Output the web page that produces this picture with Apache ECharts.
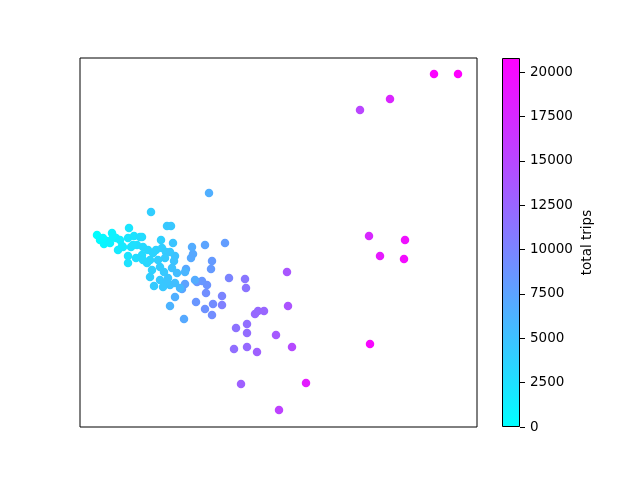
<!DOCTYPE html>
<html>
<head>
<meta charset="utf-8">
<script src="https://cdn.jsdelivr.net/npm/echarts@6/dist/echarts.min.js"></script>
<style>html,body{margin:0;padding:0;background:#fff}#c{width:640px;height:480px}</style>
</head>
<body>
<div id="c"></div>
<script>
// point positions (arbitrary units) and total trips per point
var xVals = [434,458,390,360,369,405,380,404,370,306,279,241,287,288,276,292,257,247,234,247,247,236,255,258,264,245,246,229,222,222,212,205,213,196,206,207,202,197,185,182,184,186,191,193,192,205,225,212,211,209,151,167,171,175,170,97,100,104,107,112,116,110,120,122,129,128,134,142,131,137,143,148,128,128,136,142,150,156,161,162,166,173,175,174,152,150,154,160,164,168,170,172,177,180,147,153,165,160,185,167,163,175,195,118,123,140,158,170,143,133,103,113];
var yVals = [406,406,381,370,244,240,224,221,136,97,70,96,208,174,145,133,128,133,131,156,147,152,166,169,169,201,192,202,184,175,165,171,176,178,187,195,199,198,196,191,161,211,222,226,233,235,237,219,211,287,268,254,254,183,174,245,240,236,239,247,242,237,240,234,252,242,244,243,233,235,233,230,224,217,222,225,220,230,240,232,228,237,224,219,210,203,194,200,208,202,195,212,207,192,217,227,222,213,208,198,193,197,200,230,233,243,220,228,220,235,242,244];
var totalTrips = [20500,20800,17800,15200,17500,19500,18800,19800,20200,18500,15500,13000,13800,14000,13500,14800,13000,12200,11800,11800,12000,11500,12300,12200,12500,11200,11300,10000,10000,10400,9300,9000,9400,8600,9200,8800,8500,8400,7600,7500,7000,7200,7000,7100,6800,7400,8000,8200,8200,6500,4000,4500,4600,6500,6200,200,500,700,900,1000,1200,1100,1500,1800,2000,2000,2300,3000,2300,2800,3100,3300,2200,2400,2800,3000,3500,3700,3800,4000,4200,4800,5000,4900,3800,4000,4300,4500,4400,4800,5000,5000,5400,5800,3300,3600,4300,4200,6000,4700,4600,5300,6800,1700,1800,2800,4000,4500,3100,2500,600,1100];
var cbarTicks = [0,2500,5000,7500,10000,12500,15000,17500,20000];
var cbarMax = 20800;

var pts = xVals.map(function(x,i){return [x, yVals[i], totalTrips[i]];});
var chart = echarts.init(document.getElementById('c'));
var font = 'DejaVu Sans';
chart.setOption({
  animation:false,
  backgroundColor:'#fff',
  grid:[
    {left:80, top:58, width:397, height:369, show:true, borderColor:'#000', borderWidth:1, backgroundColor:'transparent'},
    {left:502, top:58, width:18, height:369, show:false}
  ],
  xAxis:[
    {gridIndex:0, type:'value', min:80, max:477, axisLine:{show:false}, axisTick:{show:false}, axisLabel:{show:false}, splitLine:{show:false}},
    {gridIndex:1, type:'category', data:['cb'], axisLine:{show:false}, axisTick:{show:false}, axisLabel:{show:false}, splitLine:{show:false}}
  ],
  yAxis:[
    {gridIndex:0, type:'value', min:53, max:422, axisLine:{show:false}, axisTick:{show:false}, axisLabel:{show:false}, splitLine:{show:false}},
    {gridIndex:1, type:'value', min:0, max:cbarMax, position:'right',
     axisLine:{show:false},
     axisTick:{show:true, length:5, inside:false, lineStyle:{color:'#000', width:1}, customValues:cbarTicks},
     axisLabel:{show:true, margin:10, color:'#000', fontFamily:font, fontSize:13.5, customValues:cbarTicks,
       formatter:function(v){return String(v);}},
     splitLine:{show:false},
     name:'total trips', nameLocation:'middle', nameRotate:90, nameGap:60,
     nameTextStyle:{color:'#000', fontFamily:font, fontSize:13.5}}
  ],
  visualMap:{show:false, type:'continuous', seriesIndex:0, dimension:2, min:0, max:cbarMax, inRange:{color:['#00ffff','#ff00ff']}},
  series:[
    {type:'scatter', xAxisIndex:0, yAxisIndex:0, data:pts, symbolSize:8.5, itemStyle:{opacity:1}},
    {type:'bar', xAxisIndex:1, yAxisIndex:1, data:[cbarMax], barWidth:'100%', silent:true,
     itemStyle:{borderColor:'#000', borderWidth:1,
       color:{type:'linear', x:0, y:0, x2:0, y2:1, colorStops:[{offset:0, color:'#ff00ff'},{offset:1, color:'#00ffff'}]}}}
  ]
});
</script>
</body>
</html>
